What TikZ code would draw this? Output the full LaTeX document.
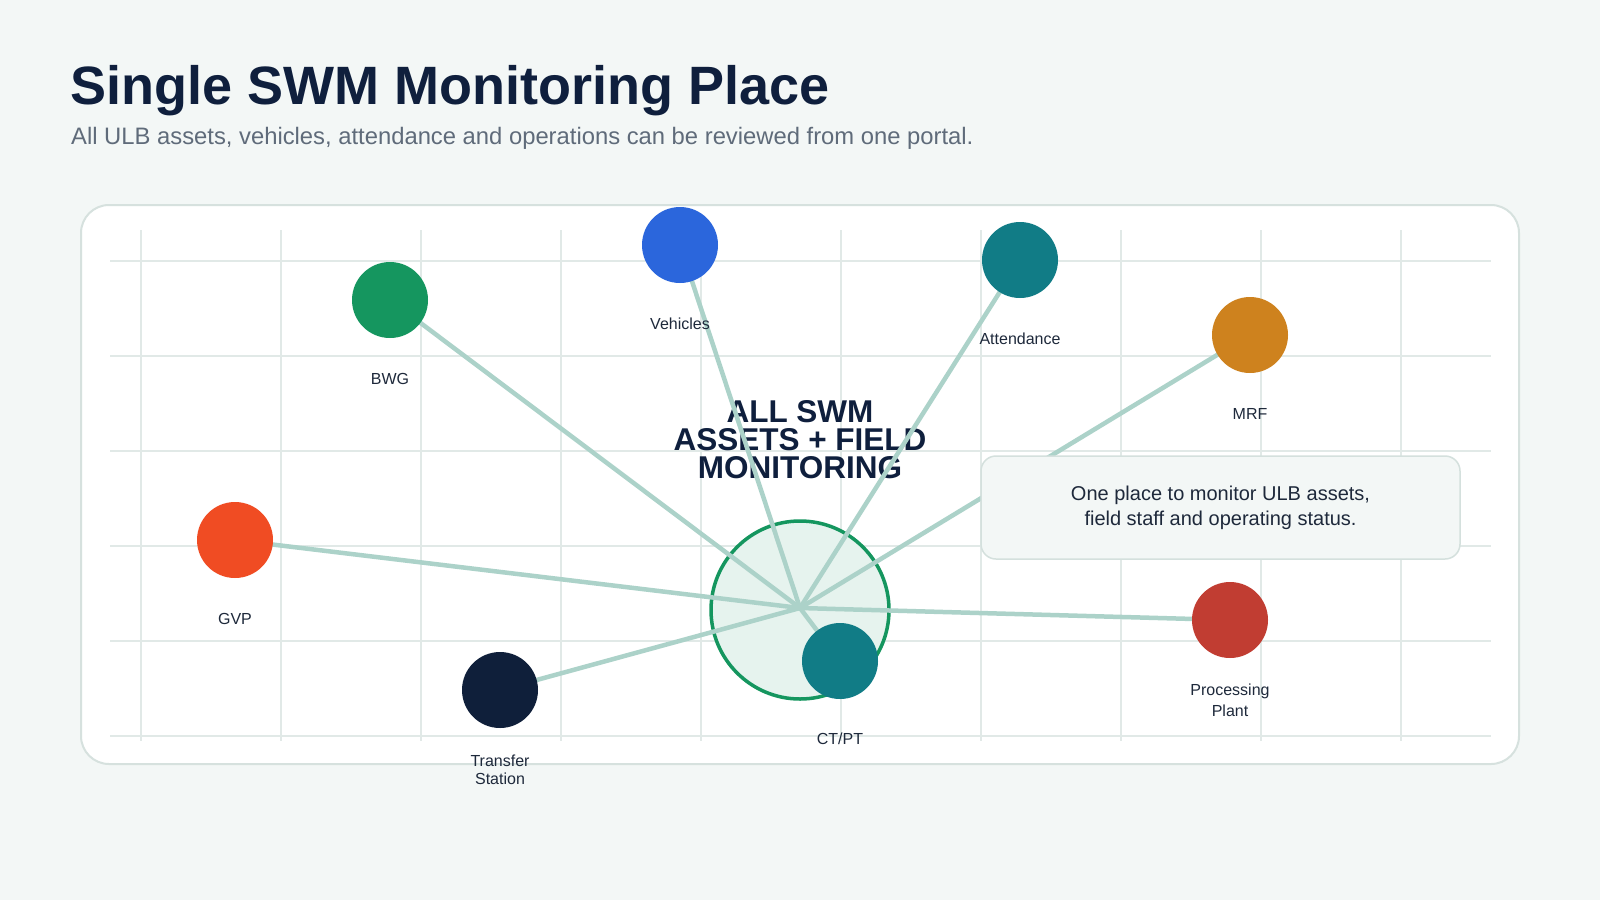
\documentclass[tikz,border=0pt]{standalone}
\usepackage{fontspec}
\setmainfont{Liberation Sans}
\definecolor{bgc}{HTML}{F3F7F6}
\definecolor{panelborder}{HTML}{D6E1DE}
\definecolor{gridc}{HTML}{E1E9E7}
\definecolor{navy}{HTML}{0F1F3D}
\definecolor{subgray}{HTML}{5F6B7A}
\definecolor{labelc}{HTML}{1E293B}
\definecolor{linkc}{HTML}{ACD2C9}
\definecolor{hubfill}{HTML}{E6F3EE}
\definecolor{hubedge}{HTML}{15965F}
\definecolor{cgreen}{HTML}{15965F}
\definecolor{cblue}{HTML}{2B66DC}
\definecolor{cteal}{HTML}{117C86}
\definecolor{corange}{HTML}{CE821E}
\definecolor{cred}{HTML}{F04C23}
\definecolor{cnavy}{HTML}{0F1F3A}
\definecolor{cbrick}{HTML}{C13D32}
\definecolor{calloutfill}{HTML}{F3F7F6}
\definecolor{calloutedge}{HTML}{D4E0DD}
\begin{document}
\begin{tikzpicture}[x=1pt,y=-1pt,
  asset/.style={circle,minimum size=76pt,inner sep=0pt,draw=none},
  lbl/.style={font=\fontsize{16}{19}\selectfont,text=labelc,align=center},
  link/.style={draw=linkc,line width=4.5pt},
  gridline/.style={draw=gridc,line width=2pt}]
\useasboundingbox (0,0) rectangle (1600,900);
\fill[bgc] (0,0) rectangle (1600,900);
% title
\node[anchor=base west,inner sep=0pt,text=navy,font=\fontsize{54}{60}\selectfont\bfseries] (title) at (70,104) {Single SWM Monitoring Place};
\node[anchor=base west,inner sep=0pt,text=subgray,font=\fontsize{23.8}{28}\selectfont] (subtitle) at (71,144) {All ULB assets, vehicles, attendance and operations can be reviewed from one portal.};
% panel
\draw[fill=white,draw=panelborder,line width=2pt,rounded corners=28pt] (81,205) rectangle (1519,764);
% grid
\foreach \x in {141,281,...,1401} \draw[gridline] (\x,230) -- (\x,741);
\foreach \y in {261,356,451,546,641,736} \draw[gridline] (110,\y) -- (1491,\y);
% hub
\node[circle,minimum size=178pt,inner sep=0pt,fill=hubfill,draw=hubedge,line width=3.5pt] (hubc) at (800,610) {};
\coordinate (hub) at (800,608);
\node[align=center,text=navy,font=\fontsize{31.5}{28}\selectfont\bfseries] (hubtext) at (800,440) {ALL SWM\\ASSETS + FIELD\\MONITORING};
% asset nodes
\coordinate (pBWG) at (390,300);
\coordinate (pVeh) at (680,245);
\coordinate (pAtt) at (1020,260);
\coordinate (pMRF) at (1250,335);
\coordinate (pGVP) at (235,540);
\coordinate (pTS) at (500,690);
\coordinate (pCT) at (840,661);
\coordinate (pPP) at (1230,620);
% links
\foreach \p in {pBWG,pVeh,pAtt,pMRF,pGVP,pTS,pCT,pPP} \draw[link] (hub) -- (\p);
% callout
\node[draw=calloutedge,fill=calloutfill,line width=1.5pt,rounded corners=15pt,minimum width=479pt,minimum height=103pt,inner sep=0pt,align=center,text=labelc,font=\fontsize{20}{25}\selectfont] (callout) at (1220.5,507.5) {One place to monitor ULB assets,\\field staff and operating status.};
% circles
\node[asset,fill=cgreen] (BWG) at (pBWG) {};
\node[asset,fill=cblue] (Veh) at (pVeh) {};
\node[asset,fill=cteal] (Att) at (pAtt) {};
\node[asset,fill=corange] (MRF) at (pMRF) {};
\node[asset,fill=cred] (GVP) at (pGVP) {};
\node[asset,fill=cnavy] (TS) at (pTS) {};
\node[asset,fill=cteal] (CT) at (pCT) {};
\node[asset,fill=cbrick] (PP) at (pPP) {};
% labels
\node[lbl] (lBWG) at (390,379) {BWG};
\node[lbl] (lVeh) at (680,324) {Vehicles};
\node[lbl] (lAtt) at (1020,339) {Attendance};
\node[lbl] (lMRF) at (1250,414) {MRF};
\node[lbl] (lGVP) at (235,619) {GVP};
\node[lbl,font=\fontsize{16}{18}\selectfont] (lTS) at (500,770) {Transfer\\Station};
\node[lbl] (lCT) at (840,739) {CT/PT};
\node[lbl,font=\fontsize{16}{21}\selectfont] (lPP) at (1230,700) {Processing\\Plant};
\end{tikzpicture}
\end{document}
